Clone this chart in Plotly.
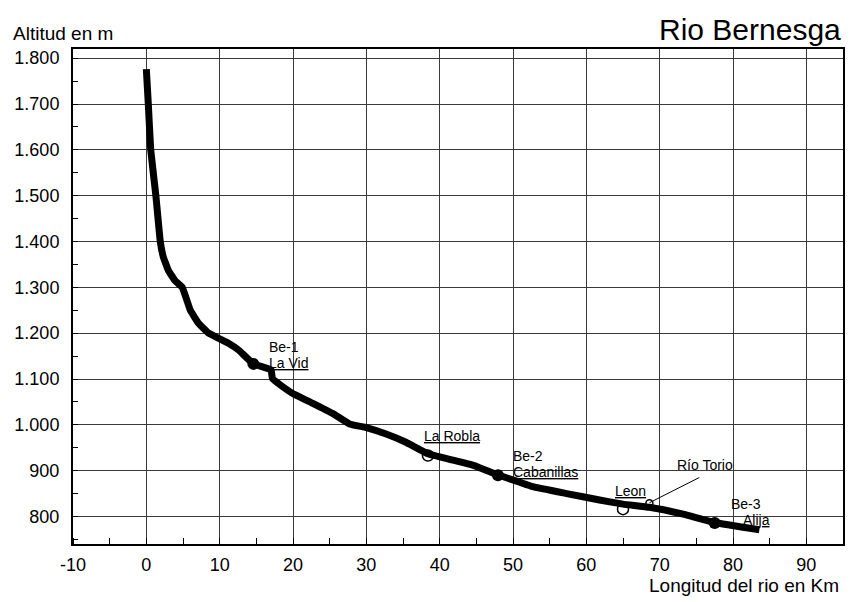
import plotly.graph_objects as go

# River profile (km from source, altitude m)
km = [0, 0.27, 0.6, 1.3, 1.9, 2.3, 3.0, 3.9, 4.9, 6.0, 7.1, 8.5, 11.2, 12.6, 14.6,
      17.0, 17.2, 18.6, 19.9, 22.7, 25.4, 27.7, 30.0, 32.7, 35.4, 38.4, 41.8, 44.5,
      47.9, 50.7, 52.7, 57.3, 61.8, 65.0, 68.6, 73.2, 77.5, 83.6]
alt = [1776, 1700, 1600, 1500, 1400, 1367, 1337, 1315, 1300, 1250, 1222, 1200, 1178,
       1163, 1133, 1120, 1101, 1083, 1069, 1047, 1025, 1002, 994, 980, 962, 937, 923,
       912, 891, 876, 865, 850, 836, 827, 820, 805, 787, 771]

# Sampling stations (filled markers)
station_km = [14.6, 47.95, 77.5]
station_alt = [1133, 890, 786]
# Towns (open circles)
town_km = [38.4, 65.0]
town_alt = [933, 816]
# Confluence with Rio Torio
torio_km = [68.6]
torio_alt = [829]
torio_leader_km = [68.6, 75.4]
torio_leader_alt = [830, 885]

# Labels: (text, km, altitude, vertical anchor, underlined)
label_text = ["Be-1", "La Vid", "La Robla", "Be-2", "Cabanillas", "Leon", "Río Torio", "Be-3", "Alija"]
label_km = [16.7, 16.7, 37.8, 50.0, 50.0, 63.9, 72.3, 79.7, 81.3]
label_alt = [1152, 1152, 975, 915, 915, 856, 912, 809, 809]
label_anchor = ["bottom", "top", "middle", "bottom", "top", "middle", "middle", "bottom", "top"]
label_underline = [False, True, True, False, True, True, False, False, True]

x_tickvals = [-10, 0, 10, 20, 30, 40, 50, 60, 70, 80, 90]
x_ticktext = ["-10", "0", "10", "20", "30", "40", "50", "60", "70", "80", "90"]
y_tickvals = [800, 900, 1000, 1100, 1200, 1300, 1400, 1500, 1600, 1700, 1800]
y_ticktext = ["800", "900", "1.000", "1.100", "1.200", "1.300", "1.400", "1.500",
              "1.600", "1.700", "1.800"]

FONT = "Liberation Sans, Arial, Helvetica, sans-serif"

fig = go.Figure()
fig.add_trace(go.Scatter(x=km, y=alt, mode="lines",
                         line=dict(color="black", width=7, shape="spline", smoothing=0.3),
                         hoverinfo="skip"))
fig.add_trace(go.Scatter(x=torio_leader_km, y=torio_leader_alt, mode="lines",
                         line=dict(color="black", width=1), hoverinfo="skip"))
fig.add_trace(go.Scatter(x=station_km, y=station_alt, mode="markers",
                         marker=dict(symbol="circle", size=12, color="black"),
                         hoverinfo="skip"))
fig.add_trace(go.Scatter(x=town_km, y=town_alt, mode="markers",
                         marker=dict(symbol="circle-open", size=11, color="black",
                                     line=dict(width=1.5)),
                         hoverinfo="skip"))
fig.add_trace(go.Scatter(x=torio_km, y=torio_alt, mode="markers",
                         marker=dict(symbol="circle-open", size=7, color="black",
                                     line=dict(width=1.5)),
                         hoverinfo="skip"))

annotations = []
for t, xv, yv, a, u in zip(label_text, label_km, label_alt, label_anchor, label_underline):
    f = dict(family=FONT, size=14, color="black")
    if u:
        f["lineposition"] = "under"
    annotations.append(dict(x=xv, y=yv, xref="x", yref="y", text=t, showarrow=False,
                            xanchor="left", yanchor=a, borderpad=0, borderwidth=0,
                            font=f))

annotations.append(dict(x=1.0, y=1.039, xref="paper", yref="paper", text="Rio Bernesga",
                        showarrow=False, xanchor="right", yanchor="middle",
                        font=dict(family=FONT, size=30, color="black")))
annotations.append(dict(x=-0.081, y=1.032, xref="paper", yref="paper", text="Altitud en m",
                        showarrow=False, xanchor="left", yanchor="middle",
                        font=dict(family=FONT, size=19, color="black")))
annotations.append(dict(x=0.746, y=-0.083, xref="paper", yref="paper",
                        text="Longitud del rio en Km", showarrow=False,
                        xanchor="left", yanchor="middle",
                        font=dict(family=FONT, size=19, color="black")))

fig.update_layout(
    width=851, height=602,
    margin=dict(l=73, r=6, t=49, b=58),
    paper_bgcolor="white", plot_bgcolor="white",
    showlegend=False,
    annotations=annotations,
    font=dict(family=FONT, size=18, color="black"),
)
fig.update_xaxes(range=[-10, 95], tickvals=x_tickvals, ticktext=x_ticktext,
                 showgrid=True, gridcolor="#3a3a3a", gridwidth=1,
                 showline=True, linecolor="black", linewidth=2, mirror=True,
                 ticks="", ticklabelstandoff=3, zeroline=False,
                 tickfont=dict(family=FONT, size=18, color="black"),
                 minor=dict(dtick=5, tick0=0, ticks="inside", ticklen=6,
                            tickcolor="black", showgrid=False))
fig.update_yaxes(range=[740, 1820], tickvals=y_tickvals, ticktext=y_ticktext,
                 showgrid=True, gridcolor="#3a3a3a", gridwidth=1,
                 showline=True, linecolor="black", linewidth=2, mirror=True,
                 ticks="", ticklabelstandoff=8, zeroline=False,
                 tickfont=dict(family=FONT, size=18, color="black"),
                 minor=dict(dtick=50, tick0=0, ticks="inside", ticklen=5,
                            tickcolor="black", showgrid=False))

fig.write_html("out.html", config={"displayModeBar": False},
               post_script="document.body.style.margin='0';")
